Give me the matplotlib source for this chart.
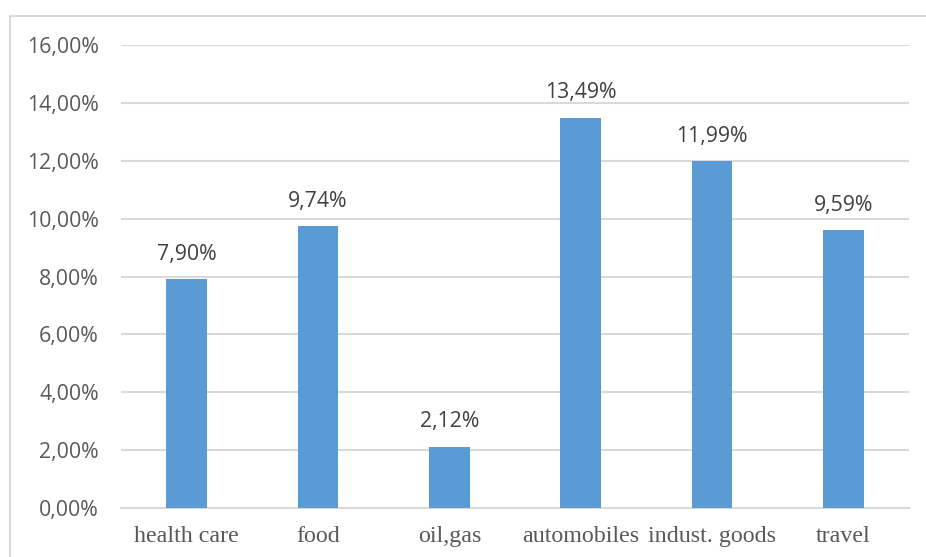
import matplotlib
matplotlib.use("Agg")
import matplotlib.pyplot as plt
from matplotlib.patches import Rectangle
from matplotlib.ticker import FuncFormatter

categories = ["health care", "food", "oil,gas", "automobiles", "indust. goods", "travel"]
returns_pct = [7.90, 9.74, 2.12, 13.49, 11.99, 9.59]
y_ticks = [0, 2, 4, 6, 8, 10, 12, 14, 16]

W, H = 926, 557
fig = plt.figure(figsize=(W / 100, H / 100), dpi=100)
ax = fig.add_axes([121 / W, 1 - 508 / H, (909 - 121) / W, (508 - 45) / H])

# chart frame
fig.patches.append(Rectangle((9.5 / W, -0.1), 1.2, 1.1 - 15.5 / H,
                             transform=fig.transFigure, fill=False,
                             edgecolor="#d9d9d9", linewidth=1.5))

x = range(len(categories))
ax.bar(x, returns_pct, width=0.31, color="#5b9bd5", zorder=3)

def fmt(v):
    return f"{v:.2f}".replace(".", ",") + "%"

for xi, v in zip(x, returns_pct):
    ax.annotate(fmt(v), (xi, v), xytext=(0, 18), textcoords="offset points",
                ha="center", va="center", fontsize=15.3, color="#404040",
                family="Open Sans")

ax.set_xlim(-0.5, len(categories) - 0.5)
ax.set_ylim(0, 16)
ax.set_yticks(y_ticks)
ax.yaxis.set_major_formatter(FuncFormatter(lambda v, p: fmt(v)))
ax.grid(axis="y", color="#d9d9d9", linewidth=1.5, zorder=0)
ax.set_xticks(list(x))
ax.set_xticklabels(categories, family="Liberation Serif", fontsize=17.3, color="#595959")
for lbl in ax.get_yticklabels():
    lbl.set_family("Open Sans")
    lbl.set_fontsize(15.3)
    lbl.set_color("#595959")
ax.tick_params(axis="both", length=0)
ax.tick_params(axis="x", pad=13)
ax.tick_params(axis="y", pad=16)
for s in ["top", "right", "left"]:
    ax.spines[s].set_visible(False)
ax.spines["bottom"].set_color("#d9d9d9")
ax.spines["bottom"].set_linewidth(1.5)

fig.savefig("out.png", dpi=100)
